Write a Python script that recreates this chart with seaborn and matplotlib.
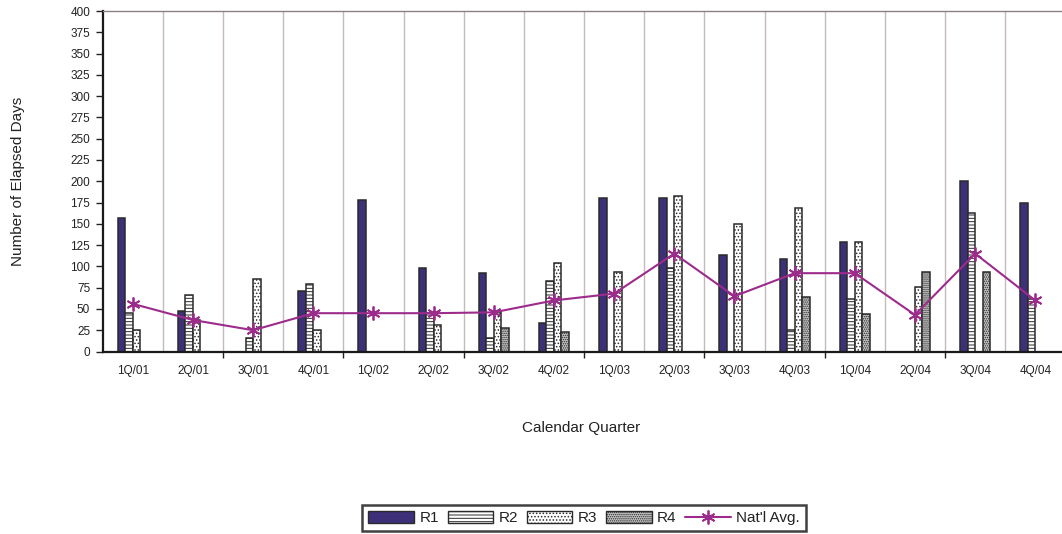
import numpy as np
import pandas as pd
import matplotlib
matplotlib.use("Agg")
import matplotlib.pyplot as plt
from matplotlib.patches import Patch
from matplotlib.lines import Line2D
import seaborn as sns

nan = np.nan
quarters = ['1Q/01', '2Q/01', '3Q/01', '4Q/01', '1Q/02', '2Q/02', '3Q/02', '4Q/02',
            '1Q/03', '2Q/03', '3Q/03', '4Q/03', '1Q/04', '2Q/04', '3Q/04', '4Q/04']
r1 = [157, 48, nan, 71, 178, 98, 92, 33, 180, 180, 113, 109, 129, nan, 200, 175]
r2 = [45, 66, 16, 79, nan, 45, 16, 83, nan, 98, nan, 25, 62, nan, 163, 62]
r3 = [25, 37, 85, 25, nan, 31, 46, 104, 93, 183, 150, 169, 129, 76, nan, nan]
r4 = [nan, nan, nan, nan, nan, nan, 28, 23, nan, nan, nan, 64, 44, 93, 93, nan]
nat_avg = [56, 37, 25, 45, 45, 45, 46, 60, 68, 115, 65, 92, 92, 43, 115, 60]
regions = ['R1', 'R2', 'R3', 'R4']
y_ticks = list(range(0, 401, 25))

sns.set_theme(style="white")
plt.rcParams['font.family'] = ['Liberation Sans', 'DejaVu Sans']
plt.rcParams['hatch.linewidth'] = 0.7

rows = []
for reg, vals in zip(regions, [r1, r2, r3, r4]):
    for q, v in zip(quarters, vals):
        if not np.isnan(v):
            rows.append({'Quarter': q, 'Region': reg, 'Days': v})
df = pd.DataFrame(rows)

colors = {'R1': '#3d2f78', 'R2': '#ffffff', 'R3': '#ffffff', 'R4': '#c4c4c4'}
hatches = {'R1': '', 'R2': '-----', 'R3': '.....', 'R4': '........'}
edge = '#2a2a2a'
line_color = '#9c2b8c'

W, H = 1062, 534
fig = plt.figure(figsize=(W / 100, H / 100), dpi=100)
left, right, bottom, top = 102.7, 1065.4, 351.5, 11.0
ax = fig.add_axes([left / W, (H - bottom) / H, (right - left) / W, (bottom - top) / H])

# category boundary grid lines
for b in np.arange(0.5, len(quarters), 1.0):
    ax.axvline(b, color='#c3baba', lw=1.0, zorder=0)

sns.barplot(data=df, x='Quarter', y='Days', hue='Region', order=quarters,
            hue_order=regions, palette=colors, width=0.5, saturation=1,
            edgecolor=edge, linewidth=1.1, errorbar=None, legend=False, ax=ax,
            zorder=2)
for cont, reg in zip(ax.containers, regions):
    for bar in cont:
        bar.set_hatch(hatches[reg])
        bar.set_edgecolor(edge)

sns.lineplot(x=np.arange(len(quarters)), y=nat_avg, ax=ax, color=line_color,
             lw=1.5, marker=(6, 2, 0), markersize=10, markeredgewidth=1.3,
             markeredgecolor=line_color, zorder=3)

ax.set_xlim(-0.5, len(quarters) - 0.5)
ax.set_ylim(0, 400)
ax.set_yticks(y_ticks)
ax.set_yticklabels([str(t) for t in y_ticks], fontsize=8.5)
ax.set_xticks(np.arange(len(quarters)))
ax.set_xticklabels(quarters, fontsize=8.5)
ax.set_xticks(np.arange(1.5, len(quarters) - 1, 2.0), minor=True)
ax.tick_params(axis='x', which='major', length=0, pad=10, colors='#222222')
ax.tick_params(axis='x', which='minor', length=4, width=1, color='#222222', bottom=True)
ax.tick_params(axis='y', which='major', length=5, width=1, color='#222222', left=True, pad=4,
               colors='#222222')

for s in ['left', 'bottom']:
    ax.spines[s].set_color('#1a1a1a')
    ax.spines[s].set_linewidth(1.6)
ax.spines['top'].set_color('#8a8080')
ax.spines['top'].set_linewidth(1.0)
ax.spines['right'].set_visible(False)

ax.set_ylabel('Number of Elapsed Days', fontsize=11, color='#222222')
ax.yaxis.set_label_coords((18 - left) / (right - left), 0.5)
ax.yaxis.label.set_va('center')
ax.set_xlabel('Calendar Quarter', fontsize=11, color='#222222')
ax.xaxis.set_label_coords((581 - left) / (right - left), (bottom - 428) / (bottom - top))
ax.xaxis.label.set_va('center')

handles = [Patch(facecolor=colors[r], edgecolor=edge, hatch=hatches[r], lw=1.0, label=r)
           for r in regions]
handles.append(Line2D([0], [0], color=line_color, lw=1.5, marker=(6, 2, 0),
                      markersize=10, markeredgewidth=1.3, label="Nat'l Avg."))
leg = fig.legend(handles=handles, loc='center', ncol=5,
                 bbox_to_anchor=(584 / W, (H - 518) / H), bbox_transform=fig.transFigure,
                 fontsize=11, frameon=True, fancybox=False, edgecolor='#111111',
                 handlelength=3.0, handleheight=0.8, columnspacing=0.55, handletextpad=0.35,
                 borderpad=0.4)
leg.get_frame().set_linewidth(1.8)
for t in leg.get_texts():
    t.set_color('#222222')

fig.savefig('out.png', dpi=100)
